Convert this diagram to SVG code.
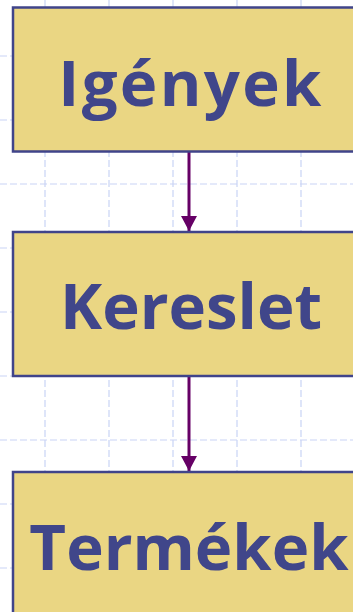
<svg xmlns="http://www.w3.org/2000/svg" width="353" height="612" viewBox="0 0 353 612">
  <style>
    .grid line { stroke: #c9d4f6; stroke-width: 1.2; stroke-dasharray: 7 3; }
    .box { fill: #ead683; stroke: #40448a; stroke-width: 2.5; }
    .label { font-family: "Open Sans", "DejaVu Sans", sans-serif; font-weight: bold; font-size: 63.5px; fill: #40468a; text-anchor: middle; }
    .conn { stroke: #660066; stroke-width: 3; fill: none; }
  </style>
  <defs>
    <!-- arrowhead drawn along +x, rotated by the line direction -->
    <marker id="arrow" viewBox="0 0 15 16" refX="15" refY="8" markerWidth="15" markerHeight="16" markerUnits="userSpaceOnUse" orient="auto">
      <path d="M0,0 L15,8 L0,16 Z" fill="#660066"/>
    </marker>
  </defs>
  <rect width="353" height="612" fill="#ffffff"/>

  <!-- background grid -->
  <g class="grid">
    <line x1="45" y1="0" x2="45" y2="612"/>
    <line x1="109" y1="0" x2="109" y2="612"/>
    <line x1="173" y1="0" x2="173" y2="612"/>
    <line x1="237" y1="0" x2="237" y2="612"/>
    <line x1="301" y1="0" x2="301" y2="612"/>
    <line x1="0" y1="56" x2="353" y2="56"/>
    <line x1="0" y1="120" x2="353" y2="120"/>
    <line x1="0" y1="184" x2="353" y2="184"/>
    <line x1="0" y1="248" x2="353" y2="248"/>
    <line x1="0" y1="312" x2="353" y2="312"/>
    <line x1="0" y1="376" x2="353" y2="376"/>
    <line x1="0" y1="440" x2="353" y2="440"/>
    <line x1="0" y1="504" x2="353" y2="504"/>
    <line x1="0" y1="568" x2="353" y2="568"/>
  </g>

  <!-- connectors -->
  <g id="connectors">
    <line class="conn" x1="189" y1="152" x2="189" y2="231" marker-end="url(#arrow)"/>
    <line class="conn" x1="189" y1="376" x2="189" y2="471" marker-end="url(#arrow)"/>
  </g>

  <g id="node-igenyek">
    <rect class="box" x="13" y="7.5" width="360" height="144"/>
    <text class="label" x="191" y="106" letter-spacing="2.3">Igények</text>
  </g>

  <g id="node-kereslet">
    <rect class="box" x="13" y="232" width="360" height="144"/>
    <text class="label" x="191" y="329">Kereslet</text>
  </g>

  <g id="node-termekek">
    <rect class="box" x="13" y="472" width="360" height="160"/>
    <text class="label" x="189" y="570">Termékek</text>
  </g>
</svg>
